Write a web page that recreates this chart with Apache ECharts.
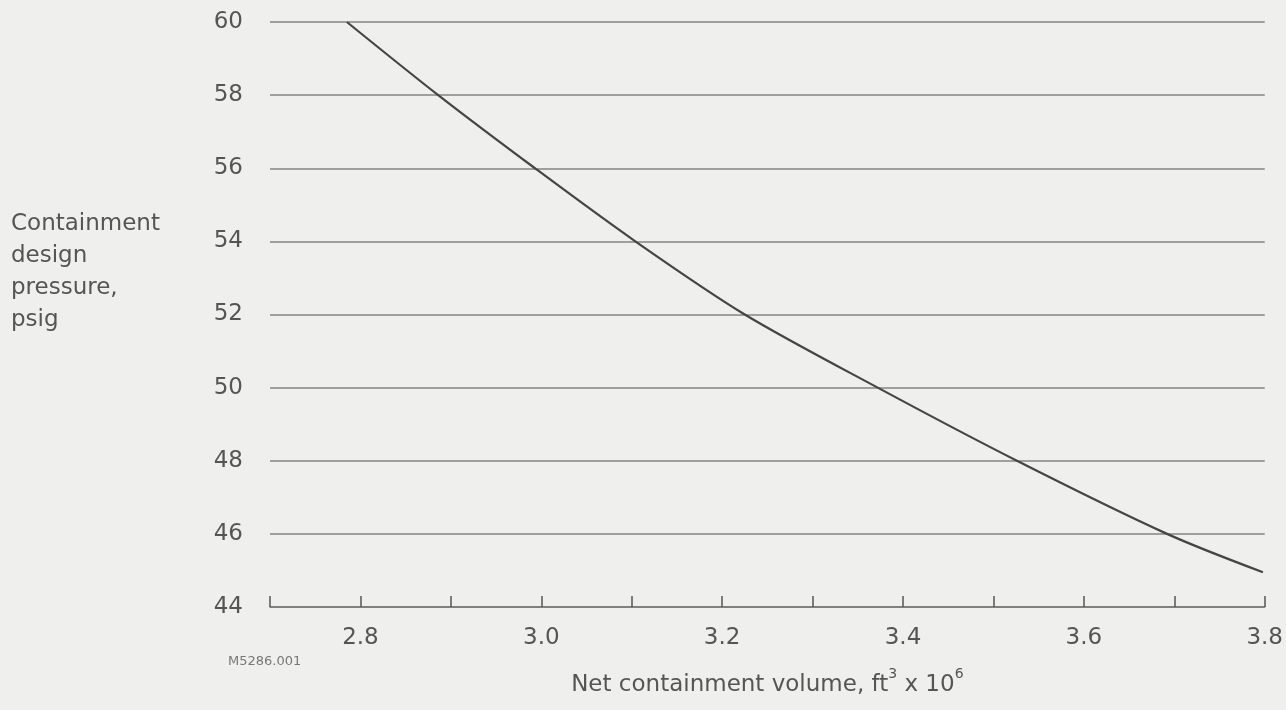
<!DOCTYPE html>
<html>
<head>
<meta charset="utf-8">
<script src="https://cdn.jsdelivr.net/npm/echarts@6/dist/echarts.min.js"></script>
<style>
html,body{margin:0;padding:0;background:#efefee;}
#chart{width:1286px;height:710px;}
</style>
</head>
<body>
<div id="chart"></div>
<script>
// Net containment volume (ft^3 x 10^6)
var volume = [2.785, 2.886, 2.993, 3.104, 3.225, 3.372, 3.526, 3.692, 3.798];
// Containment design pressure (psig)
var pressure = [60, 58, 56, 54, 52, 50, 48, 46, 44.95];
var xLabels = ['2.8', '3.0', '3.2', '3.4', '3.6', '3.8'];

var textColor = '#555';
var font = 'DejaVu Sans';
var chart = echarts.init(document.getElementById('chart'));
chart.setOption({
  backgroundColor: '#efefee',
  animation: false,
  grid: {left: 270, right: 21, top: 22, bottom: 103},
  xAxis: {
    type: 'value', min: 2.7, max: 3.8, interval: 0.1,
    axisLine: {show: true, lineStyle: {color: '#777', width: 1.5}},
    axisTick: {show: true, inside: true, length: 11, lineStyle: {color: '#555', width: 1.5}},
    splitLine: {show: false},
    axisLabel: {
      color: textColor, fontFamily: font, fontSize: 23, margin: 20,
      formatter: function (v) {
        var s = v.toFixed(1);
        return xLabels.indexOf(s) >= 0 ? s : '';
      }
    },
    name: '{n|Net containment volume, ft}{s|3}{n| x 10}{s|6}',
    nameLocation: 'middle', nameGap: 60,
    nameTextStyle: {
      rich: {
        n: {fontFamily: font, fontSize: 23, lineHeight: 30, color: textColor, verticalAlign: 'bottom'},
        s: {fontFamily: font, fontSize: 14, lineHeight: 14, color: textColor, verticalAlign: 'top'}
      }
    }
  },
  yAxis: {
    type: 'value', min: 44, max: 60, interval: 2,
    axisLine: {show: false}, axisTick: {show: false},
    splitLine: {show: true, lineStyle: {color: '#858585', width: 1.5}},
    axisLabel: {color: textColor, fontFamily: font, fontSize: 23, margin: 27}
  },
  graphic: [
    {type: 'text', left: 11, top: 208, style: {
      text: 'Containment\ndesign\npressure,\npsig',
      fill: textColor, font: '23px "DejaVu Sans"', lineHeight: 32
    }},
    {type: 'text', left: 228, top: 655, style: {
      text: 'M5286.001', fill: '#777', font: '13px "DejaVu Sans"'
    }}
  ],
  series: [{
    type: 'line',
    data: volume.map(function (v, i) { return [v, pressure[i]]; }),
    smooth: 0.3, showSymbol: false,
    lineStyle: {color: '#454545', width: 2.2}
  }]
});
</script>
</body>
</html>
